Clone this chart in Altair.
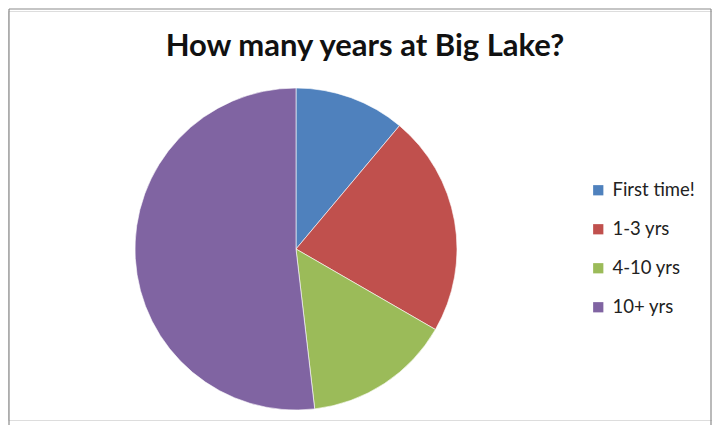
import altair as alt
import pandas as pd

categories = ["First time!", "1-3 yrs", "4-10 yrs", "10+ yrs"]
counts = [3, 6, 4, 14]
colors = ["#4F81BD", "#C0504D", "#9BBB59", "#8064A2"]
title_text = "How many years at Big Lake?"

df = pd.DataFrame({"cat": categories, "count": counts, "order": list(range(len(categories)))})

W, H = 704, 409

pie = alt.Chart(df).mark_arc(outerRadius=161, stroke="white", strokeWidth=0.6).encode(
    theta=alt.Theta("count:Q", stack=True),
    order=alt.Order("order:Q"),
    color=alt.Color(
        "cat:N",
        sort=categories,
        scale=alt.Scale(domain=categories, range=colors),
        legend=alt.Legend(
            title=None, orient="none", legendX=581, legendY=170,
            symbolType="square", symbolSize=105, symbolStrokeWidth=0,
            labelFont="Lato", labelFontSize=18.5, labelColor="#222222",
            rowPadding=20, labelOffset=5,
        ),
    ),
    x=alt.value(288),
    y=alt.value(238),
)

title = alt.Chart(pd.DataFrame({"t": [title_text]})).mark_text(
    font="Lato", fontSize=31, fontWeight="bold", color="#111111", baseline="middle", align="center"
).encode(text="t:N", x=alt.value(357), y=alt.value(36))

border_top = alt.Chart(pd.DataFrame({"a": [0]})).mark_rule(color="#8c8c8c", strokeWidth=1.2).encode(
    x=alt.value(1), x2=alt.value(W - 1), y=alt.value(-2)
)
border_left = alt.Chart(pd.DataFrame({"a": [0]})).mark_rule(color="#8c8c8c", strokeWidth=1.2).encode(
    x=alt.value(1), y=alt.value(-2), y2=alt.value(H + 20)
)
border_right = alt.Chart(pd.DataFrame({"a": [0]})).mark_rule(color="#8c8c8c", strokeWidth=1.2).encode(
    x=alt.value(W - 1), y=alt.value(-2), y2=alt.value(H + 20)
)

chart = alt.layer(pie, title, border_top, border_left, border_right).properties(
    width=W, height=H
).configure_view(stroke=None).configure(background="white", padding=0)

chart.save("out.html", embed_options={"renderer": "svg", "actions": False})
